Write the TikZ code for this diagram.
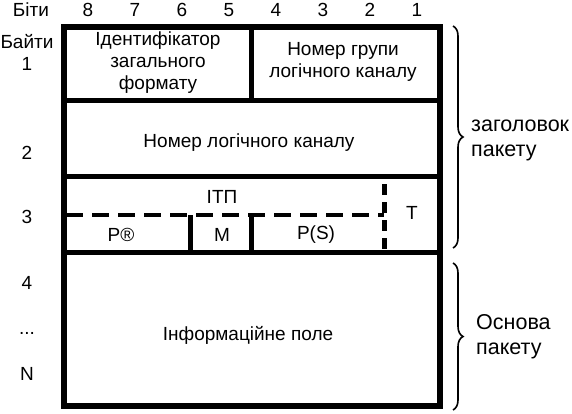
\documentclass[tikz,border=0pt]{standalone}
\usepackage{fontspec}
\setmainfont{Liberation Sans}
\usetikzlibrary{decorations.pathreplacing}

\begin{document}
\begin{tikzpicture}[x=1pt,y=-1pt,
   frame/.style={line width=6pt},
   sep/.style={line width=5pt},
   dsep/.style={line width=4.5pt,dash pattern=on 17pt off 9pt},
   vsep/.style={line width=5pt,dash pattern=on 11pt off 7pt},
   lbl/.style={font=\fontsize{19}{22}\selectfont,inner sep=0pt,align=center},
   side/.style={font=\fontsize{21.5}{25}\selectfont,inner sep=0pt,align=left,anchor=west},
   brc/.style={decorate,decoration={brace,amplitude=10pt},line width=1.6pt}]
  \useasboundingbox (0,0) rectangle (572,413);
  % bit numbers
  \node[lbl] (bits) at (31,10) {Біти};
  \foreach \i in {1,...,8}
    \node[lbl] (bit\i) at ({88+47*(8-\i)},10) {\i};
  % byte numbers
  \node[lbl] (byte1) at (27,52) {Байти\\1};
  \node[lbl] (byte2) at (27,153) {2};
  \node[lbl] (byte3) at (27,217) {3};
  \node[lbl] (byte4) at (27,283) {4};
  \node[lbl] (dots) at (27,333) {...};
  \node[lbl] (byteN) at (27,374) {N};
  % packet frame
  \draw[sep] (63.5,100) -- (440,100);
  \draw[sep] (63.5,176) -- (440,176);
  \draw[sep] (63.5,252) -- (440,252);
  \draw[sep] (251,26.5) -- (251,100);
  \draw[dsep] (66,215) -- (384,215);
  \draw[vsep] (384,184) -- (384,252);
  \draw[sep] (190,215) -- (190,252);
  \draw[sep] (251,215) -- (251,252);
  \draw[frame] (63.5,26.5) rectangle (440,406);
  % fields
  \node[lbl] (gfi) at (158,63) {Ідентифікатор\\загального\\формату};
  \node[lbl] (lcg) at (343,62) {Номер групи\\логічного каналу};
  \node[lbl] (lcn) at (249,143) {Номер логічного каналу};
  \node[lbl] (itp) at (222,197) {ІТП};
  \node[lbl] (t) at (412,213) {T};
  \node[lbl] (pr) at (121,235) {P®};
  \node[lbl] (m) at (222,235) {M};
  \node[lbl] (ps) at (316,235) {P(S)};
  \node[lbl] (info) at (248,335) {Інформаційне поле};
  % braces
  \draw[brc] (453,26) -- (453,248);
  \draw[brc] (453,263) -- (453,410);
  \node[side] (head) at (471,140) {заголовок\\пакету};
  \node[side] (body) at (476,337) {Основа\\пакету};
\end{tikzpicture}
\end{document}
